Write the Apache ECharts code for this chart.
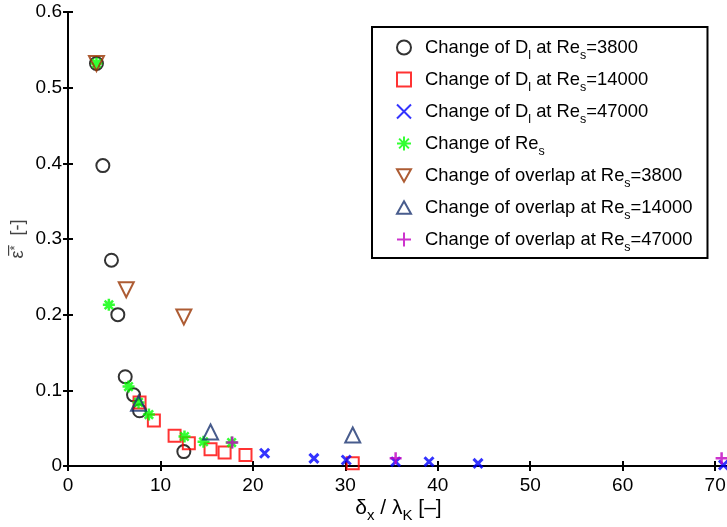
<!DOCTYPE html>
<html>
<head>
<meta charset="utf-8">
<script src="https://cdn.jsdelivr.net/npm/echarts@6/dist/echarts.min.js"></script>
<style>
  html, body { margin: 0; padding: 0; background: #fff; }
  #chart { width: 727px; height: 527px; }
</style>
</head>
<body>
<div id="chart"></div>
<script>
// values: x = delta_x / lambda_K, y = mean epsilon*
const dl3800X = [3.08, 3.77, 4.7, 5.39, 6.19, 7.09, 7.74, 12.53];
const dl3800Y = [0.532, 0.397, 0.272, 0.2, 0.118, 0.094, 0.073, 0.019];

const dl14000X = [7.74, 9.29, 11.53, 13.07, 15.42, 16.94, 19.2, 30.8];
const dl14000Y = [0.084, 0.06, 0.04, 0.03, 0.022, 0.018, 0.0145, 0.0035];

const dl47000X = [21.27, 26.6, 30.1, 35.44, 39.05, 44.35, 70.9];
const dl47000Y = [0.0168, 0.0101, 0.0079, 0.0057, 0.0057, 0.0035, 0.0013];

const resX = [3.08, 4.42, 6.55, 7.63, 8.75, 12.6, 14.66, 17.7];
const resY = [0.532, 0.213, 0.105, 0.084, 0.068, 0.039, 0.032, 0.031];

const ov3800X = [3.08, 6.3, 12.53];
const ov3800Y = [0.532, 0.233, 0.197];

const ov14000X = [7.63, 15.42, 30.8];
const ov14000Y = [0.083, 0.045, 0.041];

const ov47000X = [17.77, 35.44, 70.7];
const ov47000Y = [0.031, 0.0101, 0.0101];

const seriesNames = [
  "Change of D{sub|l} at Re{sub|s}=3800",
  "Change of D{sub|l} at Re{sub|s}=14000",
  "Change of D{sub|l} at Re{sub|s}=47000",
  "Change of Re{sub|s}",
  "Change of overlap at Re{sub|s}=3800",
  "Change of overlap at Re{sub|s}=14000",
  "Change of overlap at Re{sub|s}=47000"
];

const xTicks = [0, 10, 20, 30, 40, 50, 60, 70];
const yTicks = [0, 0.1, 0.2, 0.3, 0.4, 0.5, 0.6];

function pairs(xs, ys) {
  return xs.map((x, i) => [x, ys[i]]);
}

const FONT = "Liberation Sans, Arial, Helvetica, sans-serif";
const XMAX = 71.5;

// marker shapes (matlab style)
const SYM_X = "path://M0,0L10,10M10,0L0,10";
const SYM_PLUS = "path://M5,0L5,10M0,5L10,5";
const SYM_STAR = "path://M5,0L5,10M0,5L10,5M1.5,1.5L8.5,8.5M8.5,1.5L1.5,8.5";
const SYM_TRI_UP = "path://M5,0L10,9L0,9Z";
const SYM_TRI_DOWN = "path://M0,0L10,0L5,9Z";

function hollow(name, xs, ys, symbol, size, color, width) {
  return {
    name: name,
    type: "scatter",
    data: pairs(xs, ys),
    symbol: symbol,
    symbolSize: size,
    itemStyle: { color: "transparent", borderColor: color, borderWidth: width || 2 },
    emphasis: { disabled: true }
  };
}

const chart = echarts.init(document.getElementById("chart"));

const axisLine = { show: true, lineStyle: { color: "#000", width: 2 } };
const axisTick = { show: true, inside: true, length: 5, lineStyle: { color: "#000", width: 2 } };

chart.setOption({
  animation: false,
  grid: { left: 68, top: 12, width: 661, height: 454, outerBoundsMode: "none", containLabel: false },
  legend: {
    orient: "vertical",
    left: 372,
    top: 27,
    padding: [6, 15, 4, 24],
    itemWidth: 14,
    itemHeight: 14,
    itemGap: 3,
    borderColor: "#000",
    borderWidth: 2,
    backgroundColor: "#fff",
    data: seriesNames,
    formatter: function (n) { return n; },
    textStyle: {
      fontFamily: FONT,
      fontSize: 18.4,
      color: "#000",
      lineHeight: 20,
      padding: [0, 0, 0, 9],
      rich: {
        sub: { fontFamily: FONT, fontSize: 12.5, lineHeight: 12, padding: [16, 0, 0, 0] }
      }
    }
  },
  xAxis: [
    {
      type: "value",
      min: 0,
      max: XMAX,
      interval: 10,
      position: "bottom",
      axisLine: axisLine,
      axisTick: axisTick,
      splitLine: { show: false },
      axisLabel: {
        fontFamily: FONT, fontSize: 19, color: "#000", margin: 10,
        showMaxLabel: false,
        formatter: function (v) { return xTicks.indexOf(v) >= 0 ? String(v) : ""; }
      },
      name: "{n|δ}{s|x}{n| / λ}{s|K}{n| [–]}",
      nameLocation: "middle",
      nameGap: 31,
      nameMoveOverlap: false,
      nameTextStyle: {
        rich: {
          n: { fontFamily: FONT, fontSize: 21, color: "#000", lineHeight: 22 },
          s: { fontFamily: FONT, fontSize: 15, color: "#000", lineHeight: 15, padding: [16, 0, 0, 0] }
        }
      }
    },
    {
      type: "value",
      min: 0,
      max: XMAX,
      interval: 10,
      position: "top",
      axisLine: axisLine,
      axisTick: axisTick,
      axisLabel: { show: false },
      splitLine: { show: false }
    }
  ],
  yAxis: [
    {
      type: "value",
      min: 0,
      max: 0.6,
      interval: 0.1,
      position: "left",
      axisLine: axisLine,
      axisTick: axisTick,
      splitLine: { show: false },
      axisLabel: {
        fontFamily: FONT, fontSize: 19, color: "#000", margin: 6,
        formatter: function (v) {
          const t = yTicks.find(function (k) { return Math.abs(k - v) < 1e-9; });
          return t === undefined ? "" : (t === 0 ? "0" : t.toFixed(1));
        }
      },
      name: "{e|ε̅}{u|*}{e|  [-]}",
      nameLocation: "middle",
      nameGap: 40,
      nameRotate: 90,
      nameMoveOverlap: false,
      nameTextStyle: {
        fontFamily: FONT, fontSize: 18, color: "#444",
        rich: {
          e: { fontFamily: FONT, fontSize: 18, color: "#444" },
          u: { fontFamily: FONT, fontSize: 13, color: "#444", padding: [0, 0, 6, 0] }
        }
      }
    },
    {
      type: "value",
      min: 0,
      max: 0.6,
      interval: 0.1,
      position: "right",
      axisLine: axisLine,
      axisTick: axisTick,
      axisLabel: { show: false },
      splitLine: { show: false }
    }
  ],
  series: [
    hollow(seriesNames[0], dl3800X, dl3800Y, "circle", 13, "#000000"),
    hollow(seriesNames[1], dl14000X, dl14000Y, "rect", 12, "#ff0000"),
    hollow(seriesNames[2], dl47000X, dl47000Y, SYM_X, 9, "#0000ff", 3),
    hollow(seriesNames[3], resX, resY, SYM_STAR, 12, "#00ff00", 2.5),
    hollow(seriesNames[4], ov3800X, ov3800Y, SYM_TRI_DOWN, 15, "#993300"),
    hollow(seriesNames[5], ov14000X, ov14000Y, SYM_TRI_UP, 15, "#1a3370"),
    hollow(seriesNames[6], ov47000X, ov47000Y, SYM_PLUS, 12, "#c000c0", 2.5)
  ]
});
</script>
</body>
</html>
